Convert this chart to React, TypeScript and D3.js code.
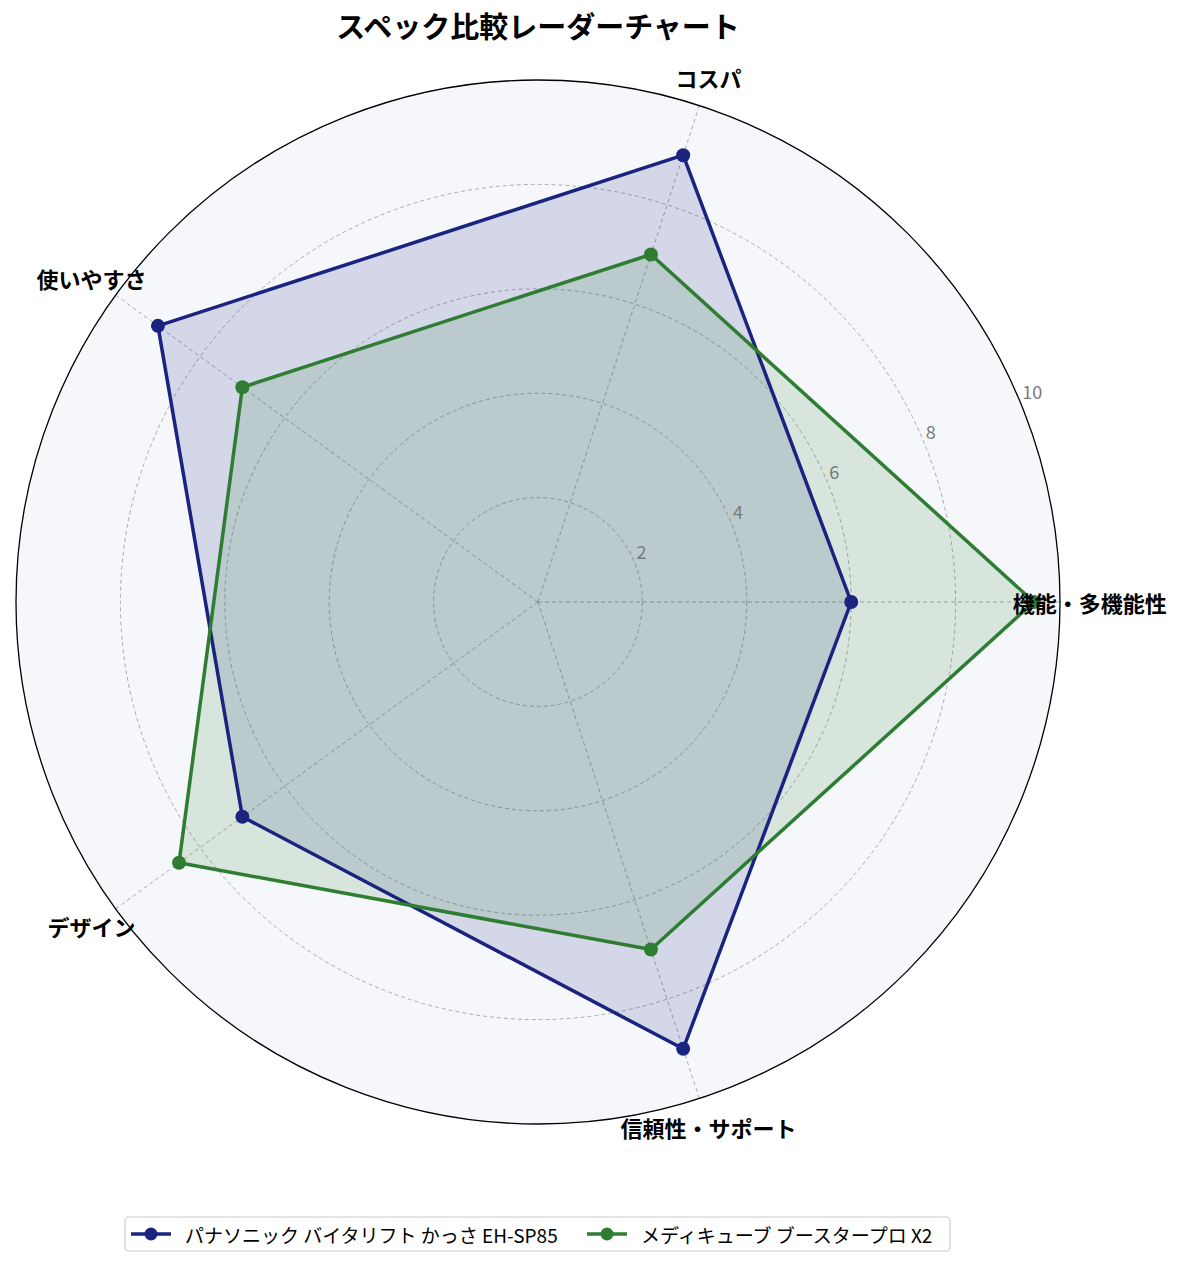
import React from "react";
import * as d3 from "d3";

const categories = ["機能・多機能性", "コスパ", "使いやすさ", "デザイン", "信頼性・サポート"];
const seriesNames = ["パナソニック バイタリフト かっさ EH-SP85", "メディキューブ ブースタープロ X2"];
const panasonicValues = [6, 9, 9, 7, 9];
const medicubeValues = [9.5, 7, 7, 8.5, 7];
const ringTicks = [2, 4, 6, 8, 10];
const seriesColors = ["#1a237e", "#2e7d32"];

const WIDTH = 1185;
const HEIGHT = 1267;
const CX = 538;
const CY = 602;
const RADIUS = 522;
const FONT = "'Noto Sans CJK JP', 'Noto Sans', sans-serif";

export default function App() {
  const r = d3.scaleLinear().domain([0, 10]).range([0, RADIUS]);
  // counter-clockwise from east, like matplotlib polar
  const angle = d3
    .scaleLinear()
    .domain([0, categories.length])
    .range([0, 2 * Math.PI]);

  const pt = (i: number, v: number): [number, number] => {
    const a = angle(i);
    return [CX + r(v) * Math.cos(a), CY - r(v) * Math.sin(a)];
  };

  const polygon = (vals: number[]) => {
    const line = d3.line<number>().x((v, i) => pt(i, v)[0]).y((v, i) => pt(i, v)[1]).curve(d3.curveLinearClosed);
    return line(vals) || "";
  };

  const allSeries = [panasonicValues, medicubeValues];
  const labelAngle = (22.5 * Math.PI) / 180;

  // legend layout
  const legendY = 1234;
  const legendX0 = 125;
  const legendW = 825;

  return (
    <svg width={WIDTH} height={HEIGHT} style={{ display: "block", position: "absolute", left: 0, top: 0 }} fontFamily={FONT}>
      <rect width={WIDTH} height={HEIGHT} fill="#ffffff" />
      <text x={CX} y={38} textAnchor="middle" fontSize={29} fontWeight="bold" fill="#000">
        スペック比較レーダーチャート
      </text>

      <circle cx={CX} cy={CY} r={RADIUS} fill="#f5f7fb" />

      {ringTicks.slice(0, -1).map((t) => (
        <circle key={t} cx={CX} cy={CY} r={r(t)} fill="none" stroke="#999" strokeWidth={0.8} strokeDasharray="4,3" />
      ))}
      {categories.map((c, i) => {
        const [x, y] = pt(i, 10);
        return <line key={c} x1={CX} y1={CY} x2={x} y2={y} stroke="#999" strokeWidth={0.8} strokeDasharray="4,3" />;
      })}

      {allSeries.map((vals, s) => (
        <path key={s} d={polygon(vals)} fill={seriesColors[s]} fillOpacity={0.15} stroke="none" />
      ))}
      {allSeries.map((vals, s) => (
        <g key={`l${s}`}>
          <path d={polygon(vals)} fill="none" stroke={seriesColors[s]} strokeWidth={3.5} strokeLinejoin="round" />
          {vals.map((v, i) => {
            const [x, y] = pt(i, v);
            return <circle key={i} cx={x} cy={y} r={7} fill={seriesColors[s]} />;
          })}
        </g>
      ))}

      <circle cx={CX} cy={CY} r={RADIUS} fill="none" stroke="#000" strokeWidth={1.3} />

      {ringTicks.map((t) => (
        <text
          key={t}
          x={CX + r(t) * Math.cos(labelAngle) + 2}
          y={CY - r(t) * Math.sin(labelAngle) - 3}
          textAnchor="start"
          fontSize={18}
          fill="#7a7a7a"
        >
          {t}
        </text>
      ))}

      {categories.map((c, i) => {
        const a = angle(i);
        const rr = RADIUS * 1.057;
        return (
          <text
            key={c}
            x={CX + rr * Math.cos(a)}
            y={CY - rr * Math.sin(a)}
            textAnchor="middle"
            dominantBaseline="central"
            fontSize={22}
            fontWeight="bold"
            fill="#000"
          >
            {c}
          </text>
        );
      })}

      <rect x={legendX0} y={legendY - 17} width={legendW} height={34} rx={4} fill="#fff" stroke="#cccccc" strokeWidth={1.2} />
      {seriesNames.map((name, s) => {
        const x0 = s === 0 ? legendX0 + 6 : 587;
        return (
          <g key={name}>
            <line x1={x0} y1={legendY} x2={x0 + 40} y2={legendY} stroke={seriesColors[s]} strokeWidth={3.5} />
            <circle cx={x0 + 20} cy={legendY} r={6.5} fill={seriesColors[s]} />
            <text x={x0 + 54} y={legendY} dominantBaseline="central" fontSize={19} fill="#000">
              {name}
            </text>
          </g>
        );
      })}
    </svg>
  );
}
